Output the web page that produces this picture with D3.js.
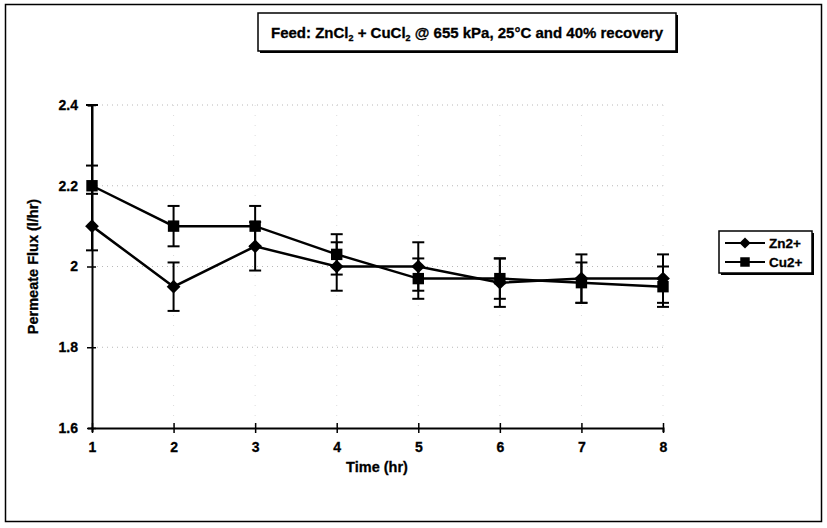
<!DOCTYPE html>
<html>
<head>
<meta charset="utf-8">
<script src="https://cdn.jsdelivr.net/npm/d3@7"></script>
<style>
  body { margin: 0; background: #fff; }
  svg text { font-family: "Liberation Sans", Arial, sans-serif; font-weight: bold; fill: #000; stroke: #000; stroke-width: 0.3px; }
</style>
</head>
<body>
<div id="chart"></div>
<script>
// data
const hours = [1, 2, 3, 4, 5, 6, 7, 8];
const znFlux = [2.1, 1.95, 2.05, 2.0, 2.0, 1.96, 1.97, 1.97];
const znLow  = [2.04, 1.89, 1.99, 1.94, 1.94, 1.90, 1.91, 1.91];
const znHigh = [2.25, 2.01, 2.11, 2.06, 2.06, 2.02, 2.03, 2.03];
const cuFlux = [2.2, 2.1, 2.1, 2.03, 1.97, 1.97, 1.96, 1.95];
const cuLow  = [2.18, 2.05, 2.05, 1.98, 1.92, 1.92, 1.91, 1.90];
const cuHigh = [2.4, 2.15, 2.15, 2.08, 2.02, 2.02, 2.01, 2.0];
const yTicks = [1.6, 1.8, 2.0, 2.2, 2.4];
const seriesNames = ["Zn2+", "Cu2+"];

const W = 827, H = 528;
const svg = d3.select("#chart").append("svg").attr("width", W).attr("height", H);

// outer frame
svg.append("rect").attr("x", 5.5).attr("y", 4.5).attr("width", 816).attr("height", 517)
  .attr("fill", "none").attr("stroke", "#000").attr("stroke-width", 1.5);

const x = d3.scaleLinear().domain([1, 8]).range([92, 663]);
const y = d3.scaleLinear().domain([1.6, 2.4]).range([428, 105]);

// dotted grid
svg.append("g").selectAll("line").data(yTicks.slice(1)).join("line")
  .attr("x1", x(1)).attr("x2", x(8)).attr("y1", d => y(d)).attr("y2", d => y(d))
  .attr("stroke", "#b8b8b8").attr("stroke-width", 1).attr("stroke-dasharray", "1,4");
svg.append("g").selectAll("line").data(hours.slice(1)).join("line")
  .attr("x1", d => x(d)).attr("x2", d => x(d)).attr("y1", y(2.4)).attr("y2", y(1.6))
  .attr("stroke", "#dcdcdc").attr("stroke-width", 1).attr("stroke-dasharray", "1,9");

// axes
const yAxis = d3.axisLeft(y).tickValues(yTicks).tickFormat(d3.format("")).tickSize(4).tickPadding(10);
const gy = svg.append("g").attr("transform", `translate(${x(1)},0)`).call(yAxis);
gy.select(".domain").attr("stroke-width", 2);
gy.selectAll(".tick line").attr("x1", 4).attr("x2", -5).attr("stroke-width", 1.5);
gy.selectAll("text").style("font-size", "14px");

const xAxis = d3.axisBottom(x).tickValues(hours).tickFormat(d3.format("d")).tickSize(4).tickPadding(10);
const gx = svg.append("g").attr("transform", `translate(0,${y(1.6)})`).call(xAxis);
gx.select(".domain").attr("stroke-width", 2);
gx.selectAll(".tick line").attr("y1", -5).attr("y2", 5).attr("stroke-width", 1.5);
gx.selectAll("text").style("font-size", "14px");

// axis titles
svg.append("text").attr("transform", `translate(38,${y(2.0)}) rotate(-90)`)
  .attr("text-anchor", "middle").style("font-size", "14.5px").text("Permeate Flux (l/hr)");
svg.append("text").attr("x", 377).attr("y", 472).attr("text-anchor", "middle")
  .style("font-size", "14.5px").text("Time (hr)");

const series = [
  { name: seriesNames[0], vals: znFlux, lo: znLow, hi: znHigh, shape: d3.symbolDiamond2 },
  { name: seriesNames[1], vals: cuFlux, lo: cuLow, hi: cuHigh, shape: d3.symbolSquare }
];

const line = d3.line().x((d, i) => x(hours[i])).y(d => y(d));

series.forEach(s => {
  const g = svg.append("g");
  // error bars
  hours.forEach((h, i) => {
    g.append("line").attr("x1", x(h)).attr("x2", x(h)).attr("y1", y(s.lo[i])).attr("y2", y(s.hi[i]))
      .attr("stroke", "#000").attr("stroke-width", 2);
    [s.lo[i], s.hi[i]].forEach(v => {
      g.append("line").attr("x1", x(h) - 6).attr("x2", x(h) + 6).attr("y1", y(v)).attr("y2", y(v))
        .attr("stroke", "#000").attr("stroke-width", 2);
    });
  });
  g.append("path").datum(s.vals).attr("d", line).attr("fill", "none")
    .attr("stroke", "#000").attr("stroke-width", 2.5);
  g.selectAll("path.mk").data(s.vals).join("path").attr("class", "mk")
    .attr("transform", (d, i) => `translate(${x(hours[i])},${y(d)})`)
    .attr("d", d3.symbol().type(s.shape).size(s.shape === d3.symbolSquare ? 130 : 120))
    .attr("fill", "#000");
});

// title box with shadow
svg.append("rect").attr("x", 260).attr("y", 15).attr("width", 418).attr("height", 38).attr("fill", "#000");
svg.append("rect").attr("x", 258).attr("y", 13).attr("width", 418).attr("height", 38)
  .attr("fill", "#fff").attr("stroke", "#000").attr("stroke-width", 1.5);
const title = svg.append("text").attr("x", 467).attr("y", 38).attr("text-anchor", "middle").style("font-size", "15px");
title.append("tspan").text("Feed: ZnCl");
title.append("tspan").attr("dy", 3).style("font-size", "9px").text("2");
title.append("tspan").attr("dy", -3).text(" + CuCl");
title.append("tspan").attr("dy", 3).style("font-size", "9px").text("2");
title.append("tspan").attr("dy", -3).text(" @ 655 kPa, 25°C and 40% recovery");

// legend
const lg = svg.append("g").attr("transform", "translate(719,231)");
lg.append("rect").attr("x", 2).attr("y", 2).attr("width", 93).attr("height", 42).attr("fill", "#000");
lg.append("rect").attr("width", 93).attr("height", 42).attr("fill", "#fff")
  .attr("stroke", "#000").attr("stroke-width", 1.5);
series.forEach((s, i) => {
  const yy = 12 + i * 19;
  lg.append("line").attr("x1", 6).attr("x2", 46).attr("y1", yy).attr("y2", yy)
    .attr("stroke", "#000").attr("stroke-width", 2);
  lg.append("path").attr("transform", `translate(26,${yy})`)
    .attr("d", d3.symbol().type(s.shape).size(s.shape === d3.symbolSquare ? 90 : 80)).attr("fill", "#000");
  lg.append("text").attr("x", 50).attr("y", yy + 5).style("font-size", "13.5px").text(s.name);
});
</script>
</body>
</html>
